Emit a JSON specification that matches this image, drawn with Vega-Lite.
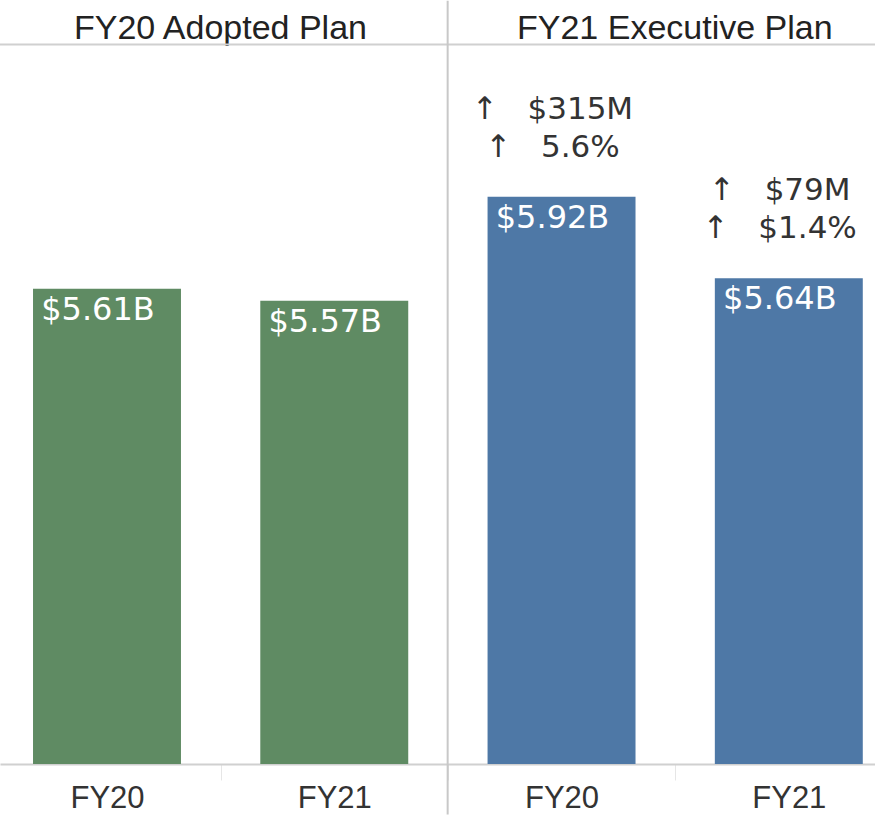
{
  "$schema": "https://vega.github.io/schema/vega-lite/v6.json",
  "width": 875,
  "height": 720,
  "autosize": {"type": "none"},
  "padding": {"left": 0, "top": 44, "right": 0, "bottom": 51},
  "background": "white",
  "config": {"view": {"stroke": null}},
  "data": {
    "values": [
      {"plan": "FY20 Adopted Plan", "year": "FY20", "key": "Adopted FY20", "value": 5.61, "label": "$5.61B"},
      {"plan": "FY20 Adopted Plan", "year": "FY21", "key": "Adopted FY21", "value": 5.57, "label": "$5.57B"},
      {"plan": "FY21 Executive Plan", "year": "FY20", "key": "Executive FY20", "value": 5.92, "label": "$5.92B", "chg": "↑\u00a0\u00a0\u00a0$315M", "pct": "↑\u00a0\u00a0\u00a05.6%"},
      {"plan": "FY21 Executive Plan", "year": "FY21", "key": "Executive FY21", "value": 5.645, "label": "$5.64B", "chg": "↑\u00a0\u00a0\u00a0$79M", "pct": "↑\u00a0\u00a0\u00a0$1.4%"}
    ]
  },
  "layer": [
    {
      "encoding": {
        "x": {
          "field": "key",
          "type": "nominal",
          "sort": null,
          "scale": {"type": "band", "paddingInner": 0.349, "paddingOuter": 0.0995, "align": 0.73},
          "axis": {
            "orient": "bottom",
            "title": null,
            "labelExpr": "slice(datum.label, -4)",
            "labelAngle": 0,
            "labelFont": "Liberation Sans",
            "labelFontSize": 31,
            "labelColor": "#333333",
            "labelBaseline": "alphabetic",
            "labelPadding": 27,
            "labelLimit": 0,
            "labelOffset": -113.65,
            "ticks": true,
            "tickOffset": 113.65,
            "tickSize": 16,
            "tickColor": "#e6e6e6",
            "tickWidth": 1,
            "domain": true,
            "domainColor": "#d0d0d0",
            "domainWidth": 2,
            "grid": false
          }
        },
        "y": {
          "field": "value",
          "type": "quantitative",
          "scale": {"domain": [4.01, 6.434], "zero": false, "nice": false},
          "axis": null
        }
      },
      "layer": [
        {
          "mark": {"type": "bar", "clip": false},
          "encoding": {
            "y2": {"datum": 4.01},
            "color": {
              "field": "plan",
              "type": "nominal",
              "scale": {"domain": ["FY20 Adopted Plan", "FY21 Executive Plan"], "range": ["#5f8b63", "#4e78a6"]},
              "legend": null
            }
          }
        },
        {
          "mark": {"type": "text", "font": "DejaVu Sans", "fontSize": 32, "color": "white", "baseline": "alphabetic", "align": "center", "dy": 31, "dx": -9},
          "encoding": {"text": {"field": "label"}}
        },
        {
          "transform": [{"filter": "datum.chg != null"}],
          "mark": {"type": "text", "font": "DejaVu Sans", "fontSize": 31, "color": "#333333", "baseline": "alphabetic", "align": "center", "dy": -40, "dx": -9},
          "encoding": {"text": {"field": "pct"}}
        },
        {
          "transform": [{"filter": "datum.chg != null"}],
          "mark": {"type": "text", "font": "DejaVu Sans", "fontSize": 31, "color": "#333333", "baseline": "alphabetic", "align": "center", "dy": -78, "dx": -9},
          "encoding": {"text": {"field": "chg"}}
        }
      ]
    },
    {
      "transform": [{"filter": "datum.key == 'Adopted FY20'"}],
      "mark": {"type": "rule", "clip": false, "color": "#c8c8c8", "strokeWidth": 2},
      "encoding": {
        "x": {
          "field": "plan",
          "type": "nominal",
          "bandPosition": 1,
          "scale": {"type": "band", "domain": ["FY20 Adopted Plan", "FY21 Executive Plan"], "range": [-6.7, 902], "paddingInner": 0, "paddingOuter": 0},
          "axis": {
            "orient": "top",
            "title": null,
            "labelAngle": 0,
            "labelFont": "Liberation Sans",
            "labelFontSize": 34,
            "labelColor": "#222222",
            "labelBaseline": "alphabetic",
            "labelPadding": 6,
            "labelLimit": 0,
            "ticks": false,
            "domain": true,
            "domainColor": "#d0d0d0",
            "domainWidth": 2,
            "grid": false
          }
        },
        "y": {"datum": 6.58, "scale": {"domain": [4.01, 6.434], "zero": false, "nice": false}},
        "y2": {"datum": 3.84}
      }
    }
  ],
  "resolve": {"scale": {"x": "independent"}, "axis": {"x": "independent"}}
}
